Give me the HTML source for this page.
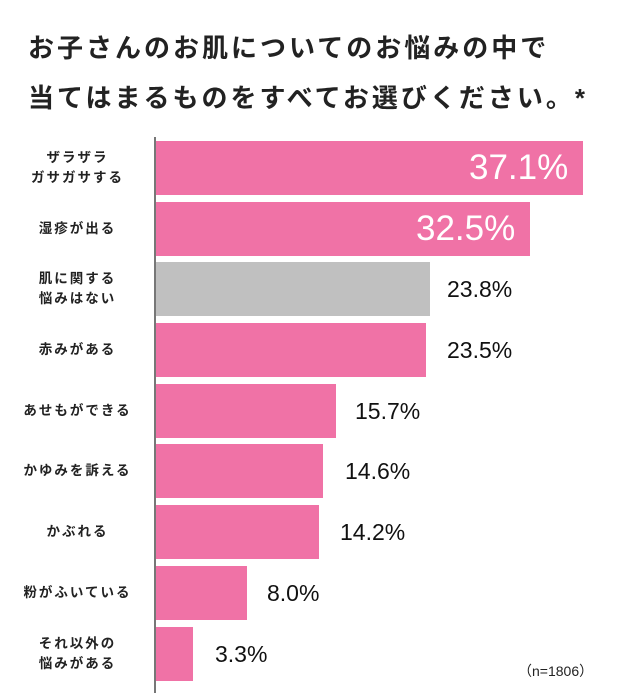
<!DOCTYPE html>
<html><head><meta charset="utf-8"><style>
body{margin:0;width:640px;height:700px;background:#fff;position:relative;overflow:hidden;font-family:"Liberation Sans","Noto Sans CJK JP",sans-serif;color:#222}
.t{position:absolute;left:28px;font-size:26px;font-weight:bold;letter-spacing:3px;white-space:nowrap}
.ax{position:absolute;left:154px;top:137px;width:2px;height:556px;background:#777}
.b{position:absolute;left:156px;height:54px;background:#f072a6}
.l{position:absolute;left:0;width:155px;text-align:center;font-size:13.5px;font-weight:bold;letter-spacing:2px;line-height:20px;display:flex;align-items:center;justify-content:center;height:54px}
.v{position:absolute;font-size:23px;height:54px;line-height:54px;color:#111}
.vi{color:#fff;font-size:35px}
</style></head><body>
<div class="t" style="top:28px">お子さんのお肌についてのお悩みの中で</div>
<div class="t" style="top:78px">当てはまるものをすべてお選びください。*</div>
<div class="ax"></div>

<div class="b" style="top:141px;width:427px"></div><div class="l" style="top:141px">ザラザラ<br>ガサガサする</div><div class="v vi" style="top:141px;left:469px">37.1%</div>
<div class="b" style="top:202px;width:374px"></div><div class="l" style="top:202px">湿疹が出る</div><div class="v vi" style="top:202px;left:416px">32.5%</div>
<div class="b" style="top:262px;width:274px;background:#c0c0c0"></div><div class="l" style="top:262px">肌に関する<br>悩みはない</div><div class="v" style="top:262px;left:447px">23.8%</div>
<div class="b" style="top:323px;width:270px"></div><div class="l" style="top:323px">赤みがある</div><div class="v" style="top:323px;left:447px">23.5%</div>
<div class="b" style="top:384px;width:180px"></div><div class="l" style="top:384px">あせもができる</div><div class="v" style="top:384px;left:355px">15.7%</div>
<div class="b" style="top:444px;width:167px"></div><div class="l" style="top:444px">かゆみを訴える</div><div class="v" style="top:444px;left:345px">14.6%</div>
<div class="b" style="top:505px;width:163px"></div><div class="l" style="top:505px">かぶれる</div><div class="v" style="top:505px;left:340px">14.2%</div>
<div class="b" style="top:566px;width:91px"></div><div class="l" style="top:566px">粉がふいている</div><div class="v" style="top:566px;left:267px">8.0%</div>
<div class="b" style="top:627px;width:37px"></div><div class="l" style="top:627px">それ以外の<br>悩みがある</div><div class="v" style="top:627px;left:215px">3.3%</div>
<div style="position:absolute;left:518px;top:661px;font-size:14px">（n=1806）</div>
</body></html>
